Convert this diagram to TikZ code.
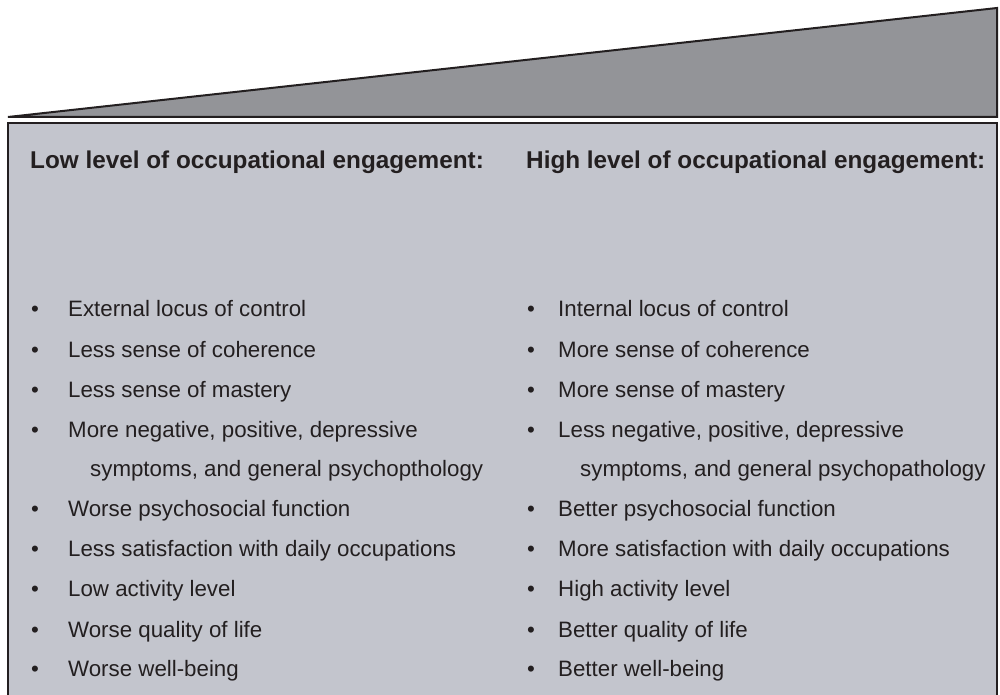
\documentclass[tikz,border=0pt]{standalone}
\usepackage{fontspec}
\setmainfont{Liberation Sans}
\usepackage{xcolor}
\usetikzlibrary{positioning}
\definecolor{inkdark}{HTML}{231F20}
\definecolor{wedgegray}{HTML}{939498}
\definecolor{panelgray}{HTML}{C3C5CD}
\tikzset{
    engagement/.style={
        x=1pt, y=-1pt,
        font=\fontsize{22.3}{26}\selectfont,
        wedge/.style={draw=inkdark, fill=wedgegray, line width=2pt, line join=miter},
        panel/.style={draw=inkdark, line width=2pt},
        heading/.style={anchor=base west, inner sep=0pt, text=inkdark, font=\fontsize{24.3}{28}\selectfont\bfseries},
        item/.style={anchor=base west, inner sep=0pt, text=inkdark},
        bullet/.style={anchor=base west, inner sep=0pt, text=inkdark}
    }
}

\begin{document}
\begin{tikzpicture}[engagement]
        \useasboundingbox (0, 0) rectangle (1000, 695);

        % Rising wedge
        \draw[wedge] (8, 117) -- (997, 8) -- (997, 117) -- cycle;

        % Panel
        \fill[panelgray] (8, 123) rectangle (997, 700);
        \draw[panel] (8, 700) -- (8, 123) -- (997, 123) -- (997, 700);

        % Headings
        \node[heading] (lowhead) at (30, 168) {Low level of occupational engagement:};
        \node[heading] (highhead) at (526, 168) {High level of occupational engagement:};

        % Low column
        \foreach \i/\y/\txt in {1/316/External locus of control, 2/357/Less sense of coherence, 3/397/Less sense of mastery, 4/437/{More negative, positive, depressive}, 5/516/Worse psychosocial function, 6/556/Less satisfaction with daily occupations, 7/596/Low activity level, 8/637/Worse quality of life, 9/676/Worse well-being} {
            \node[bullet] (lowb\i) at (31, \y) {\textbullet};
            \node[item] (low\i) at (68, \y) {\txt};
        }
        \node[item] (lowcont) at (90, 476) {symptoms, and general psychopthology};

        % High column
        \foreach \i/\y/\txt in {1/316/Internal locus of control, 2/357/More sense of coherence, 3/397/More sense of mastery, 4/437/{Less negative, positive, depressive}, 5/516/Better psychosocial function, 6/556/More satisfaction with daily occupations, 7/596/High activity level, 8/637/Better quality of life, 9/676/Better well-being} {
            \node[bullet] (highb\i) at (527, \y) {\textbullet};
            \node[item] (high\i) at (558, \y) {\txt};
        }
        \node[item] (highcont) at (580, 476) {symptoms, and general psychopathology};

    \end{tikzpicture}
\end{document}
